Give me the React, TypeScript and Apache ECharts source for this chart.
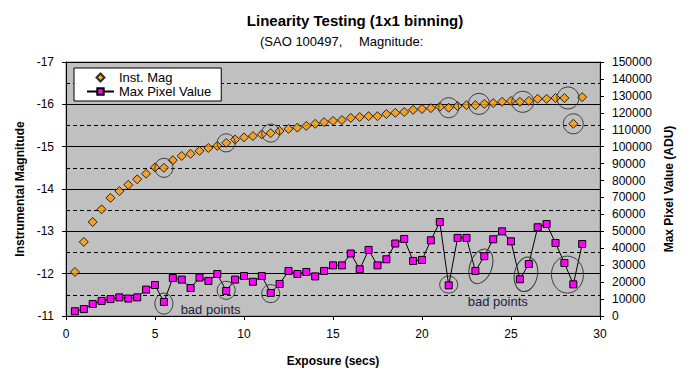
import React, { useEffect, useRef } from 'react';
import * as echarts from 'echarts';

const exposure = [
  0.5, 1, 1.5, 2, 2.5, 3, 3.5, 4, 4.5, 5, 5.5, 6, 6.5, 7, 7.5, 8, 8.5, 9, 9.5, 10,
  10.5, 11, 11.5, 12, 12.5, 13, 13.5, 14, 14.5, 15, 15.5, 16, 16.5, 17, 17.5, 18, 18.5, 19, 19.5, 20,
  20.5, 21, 21.5, 22, 22.5, 23, 23.5, 24, 24.5, 25, 25.5, 26, 26.5, 27, 27.5, 28, 28.5, 29,
];

const instMag = [
  -12.04, -12.75, -13.22, -13.52, -13.79, -13.95, -14.10, -14.23, -14.36, -14.51,
  -14.50, -14.68, -14.78, -14.83, -14.90, -14.97, -15.02, -15.09, -15.17, -15.22,
  -15.25, -15.29, -15.32, -15.37, -15.42, -15.45, -15.49, -15.54, -15.58, -15.61,
  -15.63, -15.68, -15.70, -15.72, -15.72, -15.77, -15.80, -15.82, -15.87, -15.89,
  -15.91, -15.94, -15.92, -15.96, -15.98, -15.98, -16.01, -16.03, -16.06, -16.08,
  -16.06, -16.08, -16.13, -16.13, -16.15, -16.15, -15.54, -16.17,
];

const maxPixel = [
  2800, 4100, 7100, 8900, 10000, 11000, 10300, 11000, 15600, 18300,
  8300, 22400, 21500, 16500, 22700, 20700, 24800, 14800, 21500, 23600,
  20200, 23600, 13600, 18900, 26600, 24800, 26000, 23400, 26600, 29900,
  29900, 36900, 27600, 39000, 29900, 33500, 42800, 45500, 32500, 33100,
  44700, 55500, 18100, 46100, 46100, 26600, 35300, 45300, 50000, 44100,
  21700, 30700, 52400, 54300, 43100, 31300, 18700, 42500,
];

// annotation ellipses around bad points: [exposure, value, rx, ry, rotation]
const magCircles = [
  [5.5, -14.5, 9, 9.5, 0],
  [9.0, -15.09, 9, 9, 0],
  [11.5, -15.32, 9, 9, 0],
  [21.5, -15.92, 10, 10, 0],
  [23.2, -16.01, 10.5, 10.5, 0],
  [25.66, -16.06, 11, 10.5, 0],
  [28.2, -16.15, 11, 11, 0],
  [28.5, -15.54, 10, 10, 0],
];
const pixCircles = [
  [5.5, 7323, 9, 10.5, 0],
  [9.0, 15177, 9, 9, 0],
  [11.5, 13228, 9, 9, 0],
  [21.5, 18543, 9, 8.5, 0],
  [23.31, 29350, 11, 18, -0.35],
  [25.84, 24626, 11.5, 17.5, -0.2],
  [28.17, 24449, 16, 18.5, 0],
];
const badLabels = [
  [6.44, 3780],
  [22.57, 8268],
];

const FONT = '"Liberation Sans", Arial, sans-serif';

export default function App() {
  const ref = useRef<HTMLDivElement>(null);
  useEffect(() => {
    if (!ref.current) return;
    const chart = echarts.init(ref.current, undefined, { renderer: 'svg' });
    const option: any = {
      animation: false,
      backgroundColor: '#ffffff',
      textStyle: { fontFamily: FONT },
      grid: {
        left: 66, right: 91, top: 62, bottom: 58,
        show: true, backgroundColor: '#c0c0c0', borderColor: '#808080', borderWidth: 1,
      },
      legend: {
        orient: 'vertical',
        left: 74, top: 68,
        backgroundColor: '#ffffff',
        borderColor: '#000000', borderWidth: 1, borderRadius: 0,
        padding: [3, 10, 3, 12],
        itemWidth: 27, itemHeight: 8, itemGap: 1,
        symbolKeepAspect: true,
        textStyle: { fontFamily: FONT, fontSize: 13, color: '#000000' },
        data: [
          { name: 'Inst. Mag', icon: 'path://M4,0L8,4L4,8L0,4Z' },
          { name: 'Max Pixel Value' },
        ],
      },
      xAxis: {
        type: 'value', min: 0, max: 30, interval: 5,
        name: 'Exposure (secs)', nameLocation: 'middle', nameGap: 39,
        nameTextStyle: { fontFamily: FONT, fontSize: 12, fontWeight: 'bold', color: '#000' },
        axisLine: { lineStyle: { color: '#000' } },
        axisTick: { length: 4, lineStyle: { color: '#000' } },
        axisLabel: { fontFamily: FONT, fontSize: 12, color: '#000', margin: 12 },
        splitLine: { show: false },
      },
      yAxis: [
        {
          type: 'value', min: -17, max: -11, interval: 1, inverse: true,
          name: 'Instrumental Magnitude', nameLocation: 'middle', nameGap: 32,
          nameTextStyle: { fontFamily: FONT, fontSize: 12, fontWeight: 'bold', color: '#000' },
          axisLine: { show: true, lineStyle: { color: '#000' } },
          axisTick: { show: true, length: 4, lineStyle: { color: '#000' } },
          axisLabel: { fontFamily: FONT, fontSize: 12, color: '#000', margin: 12 },
          splitLine: { show: true, lineStyle: { color: '#000', width: 1 } },
          minorTick: { show: false, splitNumber: 2 },
          minorSplitLine: { show: true, lineStyle: { color: '#000', width: 1, type: [4, 3] } },
        },
        {
          type: 'value', min: 0, max: 150000, interval: 10000, position: 'right',
          name: 'Max Pixel Value (ADU)', nameLocation: 'middle', nameGap: 50,
          nameTextStyle: { fontFamily: FONT, fontSize: 12, fontWeight: 'bold', color: '#000' },
          axisLine: { show: true, lineStyle: { color: '#000' } },
          axisTick: { show: true, length: 4, lineStyle: { color: '#000' } },
          axisLabel: { fontFamily: FONT, fontSize: 12, color: '#000', margin: 12, formatter: (v: number) => String(v) },
          splitLine: { show: false },
        },
      ],
      series: [
        {
          name: 'Inst. Mag', type: 'scatter', yAxisIndex: 0,
          symbol: 'diamond', symbolSize: 9,
          itemStyle: { color: '#FF9900', borderColor: '#000', borderWidth: 1 },
          data: exposure.map((x, i) => [x, instMag[i]]),
          z: 3,
        },
        {
          name: 'Max Pixel Value', type: 'line', yAxisIndex: 1,
          symbol: 'rect', symbolSize: 7, showSymbol: true,
          itemStyle: { color: '#FF00FF', borderColor: '#000', borderWidth: 1 },
          lineStyle: { color: '#000', width: 1 },
          data: exposure.map((x, i) => [x, maxPixel[i]]),
          z: 3,
        },
      ],
    };
    chart.setOption(option);

    const graphics: any[] = [];
    graphics.push({
      type: 'text', x: 355, y: 20,
      style: { text: 'Linearity Testing (1x1 binning)', font: `bold 15px ${FONT}`, fill: '#000', textAlign: 'center', textVerticalAlign: 'middle' },
    });
    graphics.push({
      type: 'text', x: 260, y: 41,
      style: { text: '(SAO 100497,', font: `13px ${FONT}`, fill: '#000', textAlign: 'left', textVerticalAlign: 'middle' },
    });
    graphics.push({
      type: 'text', x: 359, y: 41,
      style: { text: 'Magnitude:', font: `13px ${FONT}`, fill: '#000', textAlign: 'left', textVerticalAlign: 'middle' },
    });
    const addEllipse = (p: number[], c: number[]) => {
      graphics.push({
        type: 'ellipse', x: p[0], y: p[1], rotation: c[4], z: 10,
        shape: { cx: 0, cy: 0, rx: c[2], ry: c[3] },
        style: { fill: 'none', stroke: '#3a3a3a', lineWidth: 1 },
      });
    };
    magCircles.forEach((c) => {
      const p = chart.convertToPixel({ xAxisIndex: 0, yAxisIndex: 0 }, [c[0], c[1]]) as number[];
      addEllipse(p, c);
    });
    pixCircles.forEach((c) => {
      const p = chart.convertToPixel({ xAxisIndex: 0, yAxisIndex: 1 }, [c[0], c[1]]) as number[];
      addEllipse(p, c);
    });
    badLabels.forEach((b) => {
      const p = chart.convertToPixel({ xAxisIndex: 0, yAxisIndex: 1 }, [b[0], b[1]]) as number[];
      graphics.push({
        type: 'text', x: p[0], y: p[1], z: 10,
        style: { text: 'bad points', font: `13px ${FONT}`, fill: '#202040', textAlign: 'left', textVerticalAlign: 'middle' },
      });
    });
    chart.setOption({ graphic: graphics });

    return () => chart.dispose();
  }, []);
  return <div ref={ref} style={{ position: 'fixed', left: 0, top: 0, width: 691, height: 374 }} />;
}
